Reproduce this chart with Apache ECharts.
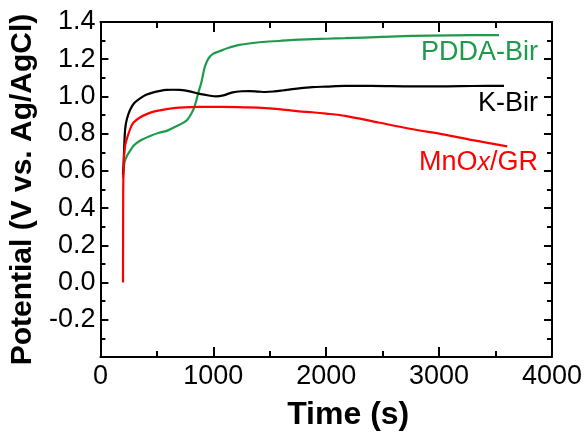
<!DOCTYPE html>
<html>
<head>
<meta charset="utf-8">
<script src="https://cdn.jsdelivr.net/npm/echarts@6/dist/echarts.min.js"></script>
<style>
html,body{margin:0;padding:0;background:#fff;}
#chart{width:585px;height:436px;}
</style>
</head>
<body>
<div id="chart"></div>
<script>
// ---- data ----
const kBirTime = [200, 205, 212, 220, 235, 264, 300, 352, 410, 469, 530, 586, 645, 703, 791, 879, 960, 1026, 1090, 1172, 1250, 1319, 1400, 1465, 1540, 1612, 1758, 1875, 2000, 2168, 2400, 2755, 3000, 3300, 3575];
const kBirPot  = [0.58, 0.63, 0.75, 0.83, 0.88, 0.93, 0.965, 0.99, 1.01, 1.022, 1.03, 1.035, 1.036, 1.035, 1.027, 1.014, 1.005, 1.0, 1.006, 1.022, 1.028, 1.029, 1.026, 1.024, 1.027, 1.032, 1.043, 1.05, 1.053, 1.057, 1.057, 1.054, 1.054, 1.056, 1.057];

const pddaTime = [200, 205, 215, 235, 265, 293, 350, 440, 520, 586, 645, 700, 733, 770, 806, 830, 850, 872, 894, 910, 923, 945, 967, 1000, 1055, 1130, 1231, 1350, 1465, 1582, 1758, 2000, 2168, 2500, 2755, 3100, 3531];
const pddaPot  = [0.56, 0.61, 0.65, 0.68, 0.71, 0.735, 0.762, 0.788, 0.805, 0.815, 0.832, 0.848, 0.858, 0.875, 0.908, 0.94, 0.98, 1.03, 1.075, 1.12, 1.155, 1.19, 1.212, 1.23, 1.243, 1.26, 1.277, 1.287, 1.294, 1.298, 1.305, 1.31, 1.313, 1.32, 1.325, 1.328, 1.33];

const mnoxTime = [200, 201, 202, 204, 207, 212, 220, 235, 249, 270, 293, 350, 410, 480, 586, 700, 879, 1084, 1300, 1465, 1582, 1758, 1875, 2000, 2168, 2462, 2755, 3048, 3300, 3604];
const mnoxPot  = [0.0, 0.3, 0.5, 0.58, 0.64, 0.7, 0.74, 0.775, 0.8, 0.835, 0.86, 0.887, 0.905, 0.92, 0.932, 0.94, 0.944, 0.944, 0.941, 0.937, 0.932, 0.92, 0.915, 0.908, 0.896, 0.86, 0.825, 0.795, 0.765, 0.732];

const xTicks = [0, 1000, 2000, 3000, 4000];
const yTickLabels = ['-0.2', '0.0', '0.2', '0.4', '0.6', '0.8', '1.0', '1.2', '1.4'];

const seriesNames = ['PDDA-Bir', 'K-Bir', 'MnOx/GR'];
const colors = {green: '#1e9a4b', black: '#000000', red: '#ff0000'};

function pairs(t, v) { return t.map((x, i) => [x, v[i]]); }

const FONT = '"Liberation Sans", Arial, sans-serif';
const chart = echarts.init(document.getElementById('chart'), null, {renderer: 'canvas'});

const axisLine = {show: true, onZero: false, lineStyle: {color: '#000', width: 2}};
const axisTickX = {show: true, inside: true, length: 10, lineStyle: {color: '#000', width: 2}};
const minorX = {show: true, splitNumber: 2, length: 6, lineStyle: {color: '#000', width: 2}};
const axisTickY = {show: true, inside: true, length: 8, lineStyle: {color: '#000', width: 2}};
const minorY = {show: true, splitNumber: 2, length: 5, lineStyle: {color: '#000', width: 2}};

chart.setOption({
  animation: false,
  backgroundColor: '#fff',
  grid: {left: 100, right: 30, top: 22, bottom: 78, containLabel: false},
  xAxis: [
    {
      type: 'value', min: xTicks[0], max: xTicks[xTicks.length - 1], interval: 1000,
      position: 'bottom',
      axisLine, axisTick: axisTickX, minorTick: minorX,
      splitLine: {show: false}, minorSplitLine: {show: false},
      axisLabel: {
        show: true, margin: 6, color: '#000', fontSize: 27, fontFamily: FONT,
        formatter: v => xTicks.indexOf(v) >= 0 ? String(v) : ''
      },
      name: 'Time (s)', nameLocation: 'middle', nameGap: 42,
      nameTextStyle: {color: '#000', fontSize: 32, fontWeight: 'bold', fontFamily: FONT, padding: [0, 0, 0, 44]}
    },
    {
      type: 'value', min: 0, max: 4000, interval: 1000, position: 'top',
      axisLine, axisTick: axisTickX, minorTick: minorX,
      splitLine: {show: false}, axisLabel: {show: false}
    }
  ],
  yAxis: [
    {
      type: 'value', min: -0.4, max: 1.4, interval: 0.2, position: 'left',
      axisLine, axisTick: axisTickY, minorTick: minorY,
      splitLine: {show: false}, minorSplitLine: {show: false},
      axisLabel: {
        show: true, margin: 5, color: '#000', fontSize: 27, fontFamily: FONT,
        formatter: v => {
          const s = (Math.abs(v) < 1e-9 ? 0 : v).toFixed(1);
          return yTickLabels.indexOf(s) >= 0 ? s : '';
        }
      },
      name: 'Potential (V vs. Ag/AgCl)', nameLocation: 'middle', nameGap: 62,
      nameTextStyle: {color: '#000', fontSize: 30, fontWeight: 'bold', fontFamily: FONT}
    },
    {
      type: 'value', min: -0.4, max: 1.4, interval: 0.2, position: 'right',
      axisLine, axisTick: axisTickY, minorTick: minorY,
      splitLine: {show: false}, axisLabel: {show: false}
    }
  ],
  series: [
    {
      name: seriesNames[0], type: 'line', data: pairs(pddaTime, pddaPot),
      showSymbol: false, smooth: 0.3, lineStyle: {color: colors.green, width: 2.2}, z: 2
    },
    {
      name: seriesNames[1], type: 'line', data: pairs(kBirTime, kBirPot),
      showSymbol: false, smooth: 0.3, lineStyle: {color: colors.black, width: 2.2}, z: 3
    },
    {
      name: seriesNames[2], type: 'line', data: pairs(mnoxTime, mnoxPot),
      showSymbol: false, smooth: 0.3, lineStyle: {color: colors.red, width: 2.2}, z: 4
    }
  ],
  graphic: [
    {type: 'text', x: 538, y: 53, style: {text: 'PDDA-Bir', fill: colors.green, font: '27px ' + FONT, align: 'right', verticalAlign: 'middle'}},
    {type: 'text', x: 538, y: 104, style: {text: 'K-Bir', fill: colors.black, font: '27px ' + FONT, align: 'right', verticalAlign: 'middle'}},
    {type: 'text', x: 538, y: 163, style: {
      text: '{a|MnO}{b|x}{a|/GR}', align: 'right', verticalAlign: 'middle',
      rich: {
        a: {fill: colors.red, fontSize: 27, fontFamily: FONT},
        b: {fill: colors.red, fontSize: 25, fontStyle: 'italic', fontFamily: FONT}
      }
    }}
  ]
});
</script>
</body>
</html>
